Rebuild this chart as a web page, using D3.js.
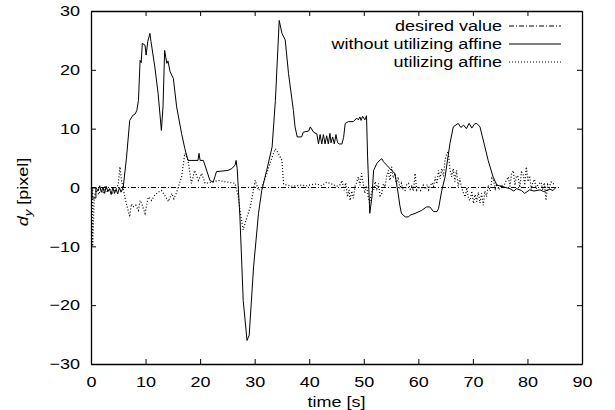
<!DOCTYPE html>
<html>
<head>
<meta charset="utf-8">
<script src="https://cdn.jsdelivr.net/npm/d3@7"></script>
<style>
  body { margin: 0; background: #fff; }
  text { font-family: "Liberation Sans", Arial, sans-serif; }
</style>
</head>
<body>
<div id="chart"></div>
<script>
// tick values
const xTicks = [0, 10, 20, 30, 40, 50, 60, 70, 80, 90];
const yTicks = [-30, -20, -10, 0, 10, 20, 30];

// desired value (reference line)
const desiredT = [0, 86];
const desiredV = [0, 0];

// without utilizing affine (solid)
const solidT = [0, 0.2, 0.2, 0.9, 0.9, 1.3, 1.6, 1.9, 2.2, 2.5, 2.8, 3.1, 3.4, 3.7, 4.0, 4.3, 4.6, 4.9, 5.2, 5.5, 5.9,
  6.5, 7.1, 7.7, 8.1, 8.4, 8.7, 9.0, 9.2, 9.4, 9.9, 10.1, 10.4, 10.8, 11.0, 11.7, 12.3, 12.9, 13.2, 13.5, 13.9, 14.1,
  14.5, 15.1, 15.7, 16.6, 17.2, 17.8, 19.6, 19.8, 20.0, 20.6, 21.2, 21.8, 22.4, 23.0, 25.1, 25.8, 26.4, 26.6, 26.8,
  27.3, 27.9, 28.6, 29.0, 29.8, 30.7, 31.3, 32.2, 33.2, 33.8, 34.5, 35.0, 35.6, 36.2, 37.1, 37.4, 37.8, 38.6, 38.9,
  39.9, 40.2, 40.8, 41.4, 41.7, 42.0, 42.3, 42.6, 42.9, 43.2, 43.5, 43.8, 44.0, 44.3, 44.6, 44.9, 45.2, 45.5, 46.0,
  46.3, 46.6, 47.2, 48.1, 48.7, 49.0, 49.3, 49.5, 49.8, 50.2, 50.5, 50.7, 51.1, 51.5, 51.8, 52.4, 53.0, 53.3, 53.6,
  54.2, 55.1, 55.7, 56.0, 56.3, 56.6, 56.9, 57.6, 58.2, 58.5, 59.4, 60.6, 61.5, 62.1, 62.8, 63.4, 63.7, 64.3, 64.9,
  65.8, 66.4, 67.3, 67.8, 68.3, 68.8, 69.3, 69.8, 70.3, 70.7, 71.3, 72.2, 72.8, 73.7, 74.4, 75.6, 76.8, 77.5, 78.0,
  78.9, 79.5, 80.4, 81.2, 82.3, 83.0, 84.1, 84.7, 85.2];
const solidV = [0, 0, -1.8, -1.8, 0, -0.6, 0.3, -0.8, 0, -1, 0.2, -0.7, -0.2, -1.2, 0, -1, -0.3, -1.1, 0, -0.8, 0,
  5, 11.4, 12.3, 12.5, 13.1, 14.8, 21.6, 21.2, 24.5, 24.2, 22.5, 24.8, 26.2, 24.8, 20.5, 16, 9.7, 13.7, 23.3, 21.1, 21.5,
  19.7, 18.5, 13.7, 9.2, 6.6, 4.6, 4.6, 5.8, 4.6, 4.6, 2.9, 1.2, 0.9, 2.7, 2.9, 3.2, 3.8, 4.6, 3.2,
  -5, -19.2, -26, -25.1, -13.5, -4.4, -0.5, 2.9, 6.9, 14.8, 28.4, 26.2, 25.1, 19.4, 13.1, 10.3, 8.6, 8.6, 9.4,
  9.6, 10.3, 9.4, 9.1, 7.4, 9.0, 7.4, 9.0, 7.4, 8.8, 7.4, 9.2, 7.6, 8.6, 7.4, 9.0, 7.6, 7.4, 7.4,
  8.5, 10.9, 11.2, 11.2, 11.8, 11.5, 12.0, 11.4, 12.1, 11.5, 12.2, 5.2, -4.4, -1.6, 2.9, 4.1, 4.7, 4.9, 4.4,
  3.8, 2.9, 2.4, 0.7, -1, -3, -4.4, -5, -5, -4.7, -4.4, -3.9, -3.3, -3.3, -4.1, -4.1, -3.6, -0.5, 1.8,
  7.5, 10.3, 10.9, 10.2, 10.6, 10.0, 10.9, 10.1, 10.8, 10.9, 10.3, 6.9, 4.6, 1.8, 0.4, 0.1, -0.2, -0.6, -0.2,
  -0.5, -1, -0.4, -0.6, -0.4, -0.7, -0.3, -0.5, 0];

// utilizing affine (dotted)
const dotT = [0, 0.3, 0.3, 0.6, 1.0, 1.4, 1.8, 2.2, 2.6, 3.0, 3.4, 3.8, 4.4, 5.0, 5.3, 5.6, 6.2, 6.8, 7.1, 7.4, 7.7, 8.2,
  8.7, 9.0, 9.3, 9.6, 9.9, 10.5, 11.1, 11.7, 12.3, 12.9, 13.5, 14.2, 14.8, 15.2, 15.7, 16.6, 17.2, 17.8, 18.4, 19.0,
  19.7, 20.3, 20.9, 22.1, 23.3, 25.1, 26.4, 27.0, 27.3, 27.9, 28.6, 29.2, 30.1, 30.7, 31.3, 32.2, 33.2, 33.8, 34.4,
  35.0, 35.3, 35.9, 37.0, 38.3, 39.5, 40.5, 41.4, 42.3, 43.2, 44.4, 45.0, 45.7, 46.0, 46.4, 46.7, 47.0, 47.3, 47.5,
  47.8, 48.1, 48.4, 48.7, 49.0, 49.3, 49.6, 49.9, 50.2, 50.5, 50.8, 51.1, 51.4, 51.8, 52.1, 52.4, 52.7, 53.0, 53.3,
  53.6, 53.9, 54.2, 54.5, 54.8, 55.1, 55.4, 55.7, 56.0, 56.3, 56.6, 56.9, 57.2, 57.6, 57.9, 58.2, 58.5, 58.8, 59.1,
  59.4, 59.7, 60.0, 60.4, 60.9, 61.3, 61.6, 61.9, 62.2, 62.5, 62.8, 63.1, 63.4, 63.7, 64.0, 64.3, 64.6, 64.9, 65.2,
  65.5, 65.8, 66.1, 66.4, 66.7, 67.0, 67.3, 67.6, 67.9, 68.2, 68.6, 68.9, 69.2, 69.5, 69.8, 70.1, 70.4, 70.7, 71.0,
  71.3, 71.6, 71.9, 72.2, 72.5, 72.8, 73.2, 73.5, 73.8, 74.1, 74.4, 74.8, 75.2, 75.6, 76.0, 76.5, 76.8, 77.1, 77.4,
  77.7, 78.0, 78.3, 78.6, 78.9, 79.2, 79.5, 79.8, 80.1, 80.4, 80.7, 81.0, 81.3, 81.6, 82.0, 82.5, 82.8, 83.1, 83.4,
  83.7, 84.0, 84.3, 84.6, 84.9];
const dotV = [0, -0.5, -10, -1.5, -0.4, -1.2, -0.3, -1.0, 0.2, -0.8, -0.2, -1.1, -0.5, 0.5, 3.5, 1.2, -1.6, -3.9, -5, -2.8, -3.3, -3.0,
  -3.9, -2.2, -2.7, -3.6, -4.4, -1.6, -2.2, -1.3, -0.8, -0.5, -1.3, -2.4, -1, -1.9, -0.8, 1.8, 5.8, 4.6, 0.7, 2.9,
  1.2, 2.4, 0.7, 0.9, 1.2, 0.9, 0.7, -1.6, -3.9, -7.2, -5, -3.3, 1.2, -0.5, 0.1, 2.3, 5.2, 6.6, 5.7,
  4.6, 0.6, 0.4, 0.2, 0.4, 0.3, 0.5, 0.6, 0.3, 0.9, 0.5, 0.2, 0.5, 1.2, -0.5, 0.8, -1.6, -0.4, -2.2,
  -0.6, -1.8, 0.2, 0.9, 1.8, 0.4, 2.4, 0.6, -1.0, 0.3, -1.5, -2.6, -0.8, -0.5, 1.0, -0.2, 0.7, -1.4, -1.0,
  0.6, 0.1, 2.0, 2.9, 1.2, 3.5, 1.6, 2.4, 0.6, 1.8, -0.2, 0.7, -0.4, -0.5, 0.6, 0.7, -0.3, 0.2, -0.6,
  2.4, -0.4, 0.2, -0.5, 0.4, -0.3, 0.5, -0.4, 0.3, 0.8, 0.2, 1.8, 0.6, 2.9, 1.5, 3.2, 1.9, 4.6, 5.8,
  6.1, 3.0, 1.8, 3.2, 1.0, 2.9, 0.2, 1.6, 0.1, -0.8, -1.6, 0.0, -2.0, -2.2, -0.6, -2.7, -1.2, -2.4, -0.8,
  -2.6, -1.0, -3.0, -0.6, -1.6, 0.4, -0.6, 1.6, 1.2, -0.2, 0.6, -0.4, 0.5, 0.0, 1.0, 1.8, 0.2, 2.4, 2.9,
  0.4, 2.0, 1.8, 0.0, 2.6, 2.4, 0.4, 3.5, 1.0, 2.0, -0.3, 0.9, 1.4, -0.2, 0.6, 0.9, -0.4, 0.8, -2.2,
  0.5, 0.0, 0.9, 0.9, 0.4];

const w = 615;
const h = 410;
const margin = { top: 11, right: 33, bottom: 46, left: 91 };
const fontSize = 15;
const stretch = "scale(1.2,1)"; // the reference glyphs are wider than Liberation Sans

const xScale = d3.scaleLinear().domain([0, 90]).range([margin.left, w - margin.right]);
const yScale = d3.scaleLinear().domain([-30, 30]).range([h - margin.bottom, margin.top]);

const svg = d3.select("#chart")
  .append("svg")
  .attr("width", w)
  .attr("height", h);

// axes with inward ticks, mirrored on top and right
const gx = svg.append("g")
  .attr("transform", `translate(0, ${h - margin.bottom})`)
  .call(d3.axisBottom(xScale).tickValues(xTicks).tickSizeInner(-5).tickSizeOuter(0).tickPadding(12));
svg.append("g")
  .attr("transform", `translate(0, ${margin.top})`)
  .call(d3.axisTop(xScale).tickValues(xTicks).tickSizeInner(-5).tickSizeOuter(0).tickFormat(""));
const gy = svg.append("g")
  .attr("transform", `translate(${margin.left}, 0)`)
  .call(d3.axisLeft(yScale).tickValues(yTicks).tickSizeInner(-5).tickSizeOuter(0).tickPadding(11));
svg.append("g")
  .attr("transform", `translate(${w - margin.right}, 0)`)
  .call(d3.axisRight(yScale).tickValues(yTicks).tickSizeInner(-5).tickSizeOuter(0).tickFormat(""));

svg.selectAll(".domain").attr("stroke", "#000").attr("stroke-width", 1.3);
svg.selectAll(".tick line").attr("stroke", "#000");
svg.selectAll(".tick text")
  .attr("font-size", fontSize)
  .attr("font-family", "Liberation Sans, Arial, sans-serif")
  .attr("fill", "#000");
gx.selectAll(".tick text").attr("transform", stretch);
gy.selectAll(".tick text").attr("x", 0).attr("transform", `translate(-11,0) ${stretch}`);

const line = d3.line()
  .x(d => xScale(d[0]))
  .y(d => yScale(d[1]));

const series = [
  { t: desiredT, v: desiredV, dash: "5,2,1,2", width: 1, name: "desired value" },
  { t: solidT, v: solidV, dash: null, width: 1, name: "without utilizing affine" },
  { t: dotT, v: dotV, dash: "1,2", width: 1.2, name: "utilizing affine" }
];

series.forEach(s => {
  svg.append("path")
    .datum(s.t.map((t, i) => [t, s.v[i]]))
    .attr("fill", "none")
    .attr("stroke", "#000")
    .attr("stroke-width", s.width)
    .attr("stroke-dasharray", s.dash)
    .attr("d", line);
});

// legend
const legend = svg.append("g");
series.forEach((s, i) => {
  const y = 26 + i * 18;
  legend.append("text")
    .attr("transform", `translate(502, ${y}) ${stretch}`)
    .attr("dy", "0.35em")
    .attr("text-anchor", "end")
    .attr("font-size", fontSize)
    .text(s.name);
  legend.append("line")
    .attr("x1", 509).attr("x2", 561)
    .attr("y1", y).attr("y2", y)
    .attr("stroke", "#000")
    .attr("stroke-width", s.width)
    .attr("stroke-dasharray", s.dash);
});

// axis titles
svg.append("text")
  .attr("transform", `translate(${(margin.left + w - margin.right) / 2}, 407) ${stretch}`)
  .attr("text-anchor", "middle")
  .attr("font-size", fontSize)
  .text("time [s]");

const yLabel = svg.append("text")
  .attr("transform", `translate(28, 192) rotate(-90) ${stretch}`)
  .attr("text-anchor", "middle")
  .attr("font-size", fontSize);
yLabel.append("tspan").attr("font-style", "italic").text("d");
yLabel.append("tspan").attr("font-style", "italic").attr("font-size", 11).attr("dy", 4).text("y");
yLabel.append("tspan").attr("dy", -4).text(" [pixel]");
</script>
</body>
</html>
